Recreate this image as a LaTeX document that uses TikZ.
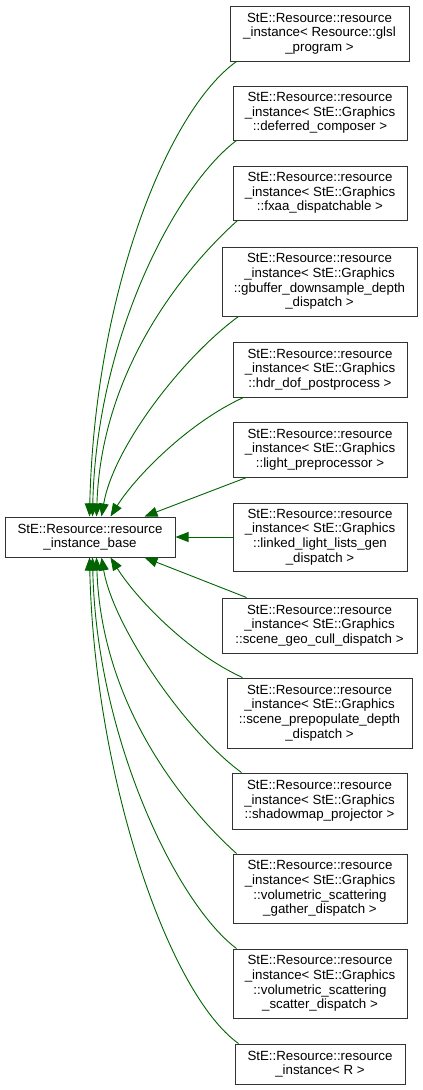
\documentclass[tikz,border=0pt]{standalone}
\usepackage{fontspec}
\setmainfont{Liberation Sans}
\usetikzlibrary{arrows.meta}
\definecolor{inhgreen}{RGB}{0,100,0}

\begin{document}
\begin{tikzpicture}[x=1pt, y=-1pt,
	cls/.style={draw=black!80, line width=1pt, fill=white, align=center, inner sep=0pt, font=\fontsize{13.3}{14.6}\selectfont},
	inh/.style={draw=inhgreen, line width=0.9pt, -{Triangle[length=13pt, width=10pt]}}]
	\useasboundingbox (0,0) rectangle (423,1090);
	\node[cls, minimum width=170, minimum height=40] (base) at (90,537) {StE::Resource::resource\\\_instance\_base};
	\node[cls, minimum width=179, minimum height=55] (glsl) at (319.5,33.5) {StE::Resource::resource\\\_instance< Resource::glsl\\\_program >};
	\node[cls, minimum width=174, minimum height=54] (defcomp) at (320,113) {StE::Resource::resource\\\_instance< StE::Graphics\\::deferred\_composer >};
	\node[cls, minimum width=174, minimum height=54] (fxaa) at (320,193) {StE::Resource::resource\\\_instance< StE::Graphics\\::fxaa\_dispatchable >};
	\node[cls, minimum width=195, minimum height=69] (gbuf) at (319.5,281.5) {StE::Resource::resource\\\_instance< StE::Graphics\\::gbuffer\_downsample\_depth\\\_dispatch >};
	\node[cls, minimum width=174, minimum height=55] (hdr) at (320,369.5) {StE::Resource::resource\\\_instance< StE::Graphics\\::hdr\_dof\_postprocess >};
	\node[cls, minimum width=174, minimum height=55] (lightpre) at (320,449.5) {StE::Resource::resource\\\_instance< StE::Graphics\\::light\_preprocessor >};
	\node[cls, minimum width=174, minimum height=68] (linked) at (320,537) {StE::Resource::resource\\\_instance< StE::Graphics\\::linked\_light\_lists\_gen\\\_dispatch >};
	\node[cls, minimum width=195, minimum height=55] (geocull) at (319.5,625.5) {StE::Resource::resource\\\_instance< StE::Graphics\\::scene\_geo\_cull\_dispatch >};
	\node[cls, minimum width=185, minimum height=70] (prepop) at (319.5,713) {StE::Resource::resource\\\_instance< StE::Graphics\\::scene\_prepopulate\_depth\\\_dispatch >};
	\node[cls, minimum width=175, minimum height=56] (shadow) at (319.5,801) {StE::Resource::resource\\\_instance< StE::Graphics\\::shadowmap\_projector >};
	\node[cls, minimum width=174, minimum height=69] (volgather) at (320,888.5) {StE::Resource::resource\\\_instance< StE::Graphics\\::volumetric\_scattering\\\_gather\_dispatch >};
	\node[cls, minimum width=174, minimum height=69] (volscatter) at (320,983.5) {StE::Resource::resource\\\_instance< StE::Graphics\\::volumetric\_scattering\\\_scatter\_dispatch >};
	\node[cls, minimum width=170, minimum height=40] (instR) at (320,1064) {StE::Resource::resource\\\_instance< R >};
	% edges from above
	\draw[inh] ([xshift=7]glsl.south west) .. controls +(-70,50) and +(5,-220) .. ([xshift=85]base.north west);
	\draw[inh] ([xshift=4]defcomp.south west) .. controls +(-60,45) and +(4,-180) .. ([xshift=88]base.north west);
	\draw[inh] ([xshift=5]fxaa.south west) .. controls +(-50,45) and +(5,-150) .. ([xshift=92]base.north west);
	\draw[inh] ([xshift=17]gbuf.south west) .. controls +(-55,40) and +(12,-70) .. ([xshift=97]base.north west);
	\draw[inh] ([xshift=11]hdr.south west) .. controls +(-55,25) and +(25,-40) .. ([xshift=106]base.north west);
	\draw[inh] ([xshift=14]lightpre.south west) -- ([xshift=140]base.north west);
	\draw[inh] (linked) -- (base);
	% edges from below
	\draw[inh] ([xshift=25]geocull.north west) -- ([xshift=140]base.south west);
	\draw[inh] ([xshift=16]prepop.north west) .. controls +(-55,-25) and +(25,40) .. ([xshift=106]base.south west);
	\draw[inh] ([xshift=10]shadow.north west) .. controls +(-55,-40) and +(12,70) .. ([xshift=97]base.south west);
	\draw[inh] ([xshift=4]volgather.north west) .. controls +(-50,-45) and +(5,150) .. ([xshift=92]base.south west);
	\draw[inh] ([xshift=4]volscatter.north west) .. controls +(-60,-45) and +(4,180) .. ([xshift=88]base.south west);
	\draw[inh] ([xshift=4]instR.north west) .. controls +(-70,-50) and +(5,220) .. ([xshift=85]base.south west);
\end{tikzpicture}
\end{document}
